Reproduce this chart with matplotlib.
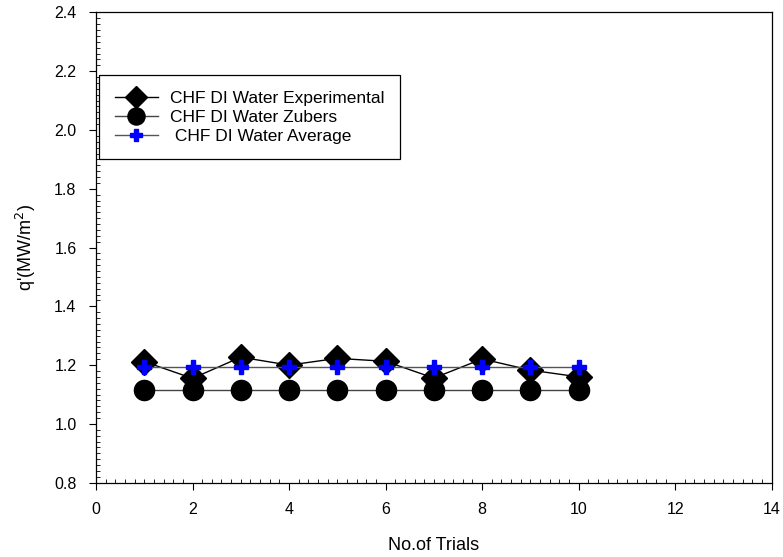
import matplotlib.pyplot as plt
from matplotlib.ticker import MultipleLocator

plt.rcParams['font.family'] = ['Liberation Sans', 'DejaVu Sans']

trials = [1, 2, 3, 4, 5, 6, 7, 8, 9, 10]
chf_experimental = [1.212, 1.155, 1.227, 1.200, 1.223, 1.213, 1.156, 1.221, 1.183, 1.160]
chf_zubers = [1.116, 1.116, 1.116, 1.116, 1.116, 1.116, 1.116, 1.116, 1.116, 1.116]
chf_average = [1.193, 1.193, 1.193, 1.193, 1.193, 1.193, 1.193, 1.193, 1.193, 1.193]

labels = ['CHF DI Water Experimental', 'CHF DI Water Zubers', ' CHF DI Water Average']

fig = plt.figure(figsize=(7.83, 5.57), dpi=100)
ax = fig.add_axes([0.1226, 0.1334, 0.863, 0.8443])

h2, = ax.plot(trials, chf_zubers, color='#444444', linewidth=1.0, marker='o',
              markersize=14.5, markerfacecolor='black', markeredgecolor='black', zorder=2)
h1, = ax.plot(trials, chf_experimental, color='black', linewidth=1.0, marker='D',
              markersize=13, markerfacecolor='black', markeredgecolor='black', zorder=3)
h3, = ax.plot(trials, chf_average, color='#555555', linewidth=1.0, marker='P',
              markersize=10.5, markerfacecolor='#0000FF', markeredgecolor='#0000FF', zorder=4)

ax.set_xlim(0, 14)
ax.set_ylim(0.8, 2.4)
ax.xaxis.set_major_locator(MultipleLocator(2))
ax.xaxis.set_minor_locator(MultipleLocator(0.2))
ax.yaxis.set_major_locator(MultipleLocator(0.2))
ax.yaxis.set_minor_locator(MultipleLocator(0.02))
ax.yaxis.set_major_formatter(plt.FormatStrFormatter('%.1f'))

ax.tick_params(which='major', direction='out', length=5, width=0.8, labelsize=11.5,
               pad=9, top=False, right=False)
ax.tick_params(which='minor', direction='in', length=3, width=0.6,
               top=False, right=False)
for s in ax.spines.values():
    s.set_linewidth(0.9)

ax.set_xlabel('No.of Trials', fontsize=13, labelpad=14)
ax.set_ylabel("q'(MW/m$^2$)", fontsize=13, labelpad=12)

leg = ax.legend([h1, h2, h3], labels, loc='upper left',
                bbox_to_anchor=(99 / 783, 1 - 75 / 557), bbox_transform=fig.transFigure,
                borderaxespad=0, fontsize=12.5, fancybox=False, framealpha=1,
                edgecolor='black', handlelength=2.5, handletextpad=0.7,
                labelspacing=0.22, borderpad=0.9, markerscale=0.85)
leg.get_frame().set_linewidth(0.9)

fig.savefig('out.png', dpi=100)
